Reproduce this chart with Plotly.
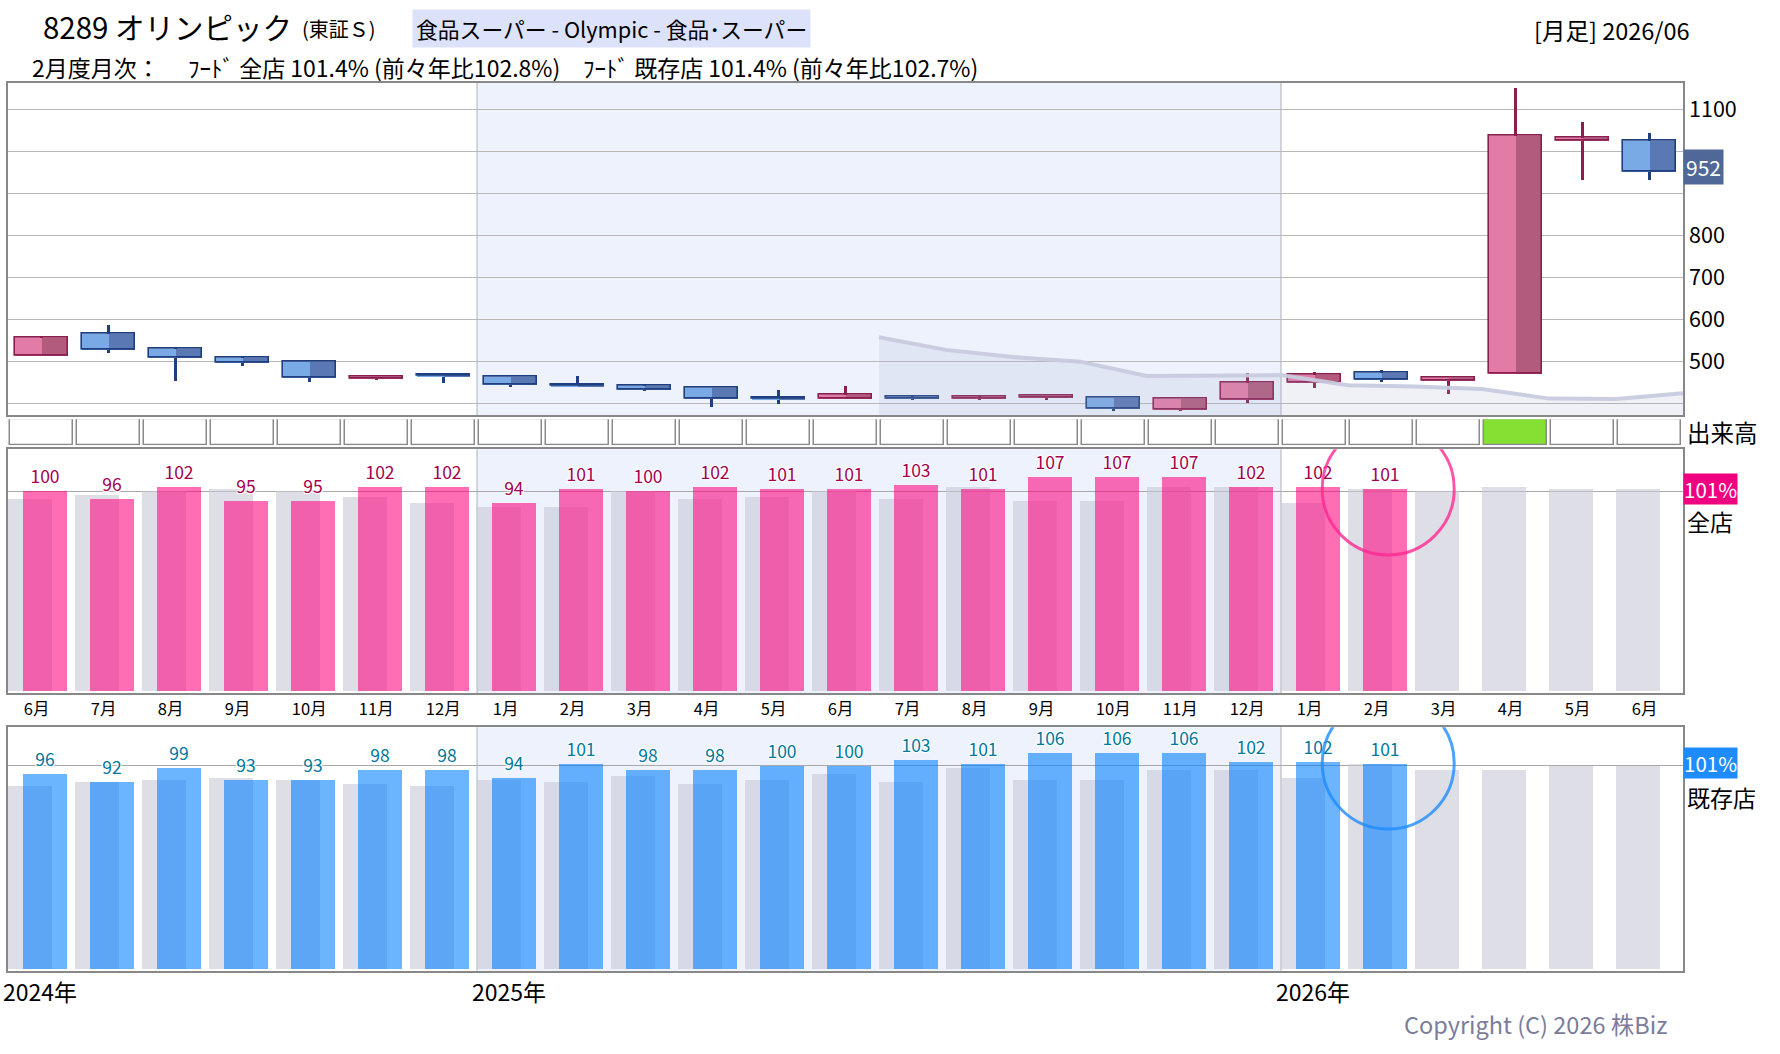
import plotly.graph_objects as go

W, H = 1780, 1054
FONT = "Noto Sans CJK JP"

# ---------------- data ----------------
months = ['6月', '7月', '8月', '9月', '10月', '11月', '12月', '1月', '2月', '3月', '4月', '5月',
          '6月', '7月', '8月', '9月', '10月', '11月', '12月', '1月', '2月', '3月', '4月', '5月', '6月']
year_labels = ['2024年', '2025年', '2026年']
year_start_idx = [0, 7, 19]

price_open = [514, 565, 530, 508, 498, 459, 468, 464, 445, 441, 436, 414, 412,
              415, 411, 414, 414, 385, 409, 450, 472, 454, 471, 1025, 1026]
price_high = [561, 587, 532, 511, 498, 464, 468, 464, 465, 444, 436, 432, 441,
              421, 418, 418, 414, 410, 472, 474, 480, 460, 1152, 1070, 1045]
price_low = [514, 521, 454, 489, 452, 457, 449, 440, 441, 430, 392, 399, 410,
             409, 408, 408, 382, 382, 402, 437, 452, 423, 471, 932, 933]
price_close = [555, 527, 508, 497, 461, 464, 465, 443, 441, 433, 412, 410, 421,
               411, 415, 418, 387, 410, 450, 469, 457, 460, 1038, 1031, 952]
price_ticks = [400, 500, 600, 700, 800, 900, 1000, 1100]
price_ticktext = ['', '500', '600', '700', '800', '', '', '1100']

# moving line (drawn at month boundaries, from the start of 2025/07)
ma_start_idx = 13
ma_values = [557, 527, 510, 499, 465, 467, 467, 443, 440, 434, 411, 410, 424]

volume_flag = [0, 0, 0, 0, 0, 0, 0, 0, 0, 0, 0, 0, 0,
               0, 0, 0, 0, 0, 0, 0, 0, 0, 1, 0, 0]

all_store = [100, 96, 102, 95, 95, 102, 102, 94, 101, 100, 102, 101, 101,
             103, 101, 107, 107, 107, 102, 102, 101]
all_store_prev = [96, 98, 100, 101, 100, 97, 94, 92, 92, 100, 96, 97, 100,
                  96, 102, 95, 95, 102, 102, 94, 101, 100, 102, 101, 101]
existing = [96, 92, 99, 93, 93, 98, 98, 94, 101, 98, 98, 100, 100,
            103, 101, 106, 106, 106, 102, 102, 101]
existing_prev = [90, 92, 93, 94, 93, 91, 90, 93, 92, 95, 91, 93, 96,
                 92, 99, 93, 93, 98, 98, 94, 101, 98, 98, 100, 100]
all_store_latest = 101.4
existing_latest = 101.4

idx = list(range(len(months)))

# ---------------- helpers ----------------
def ydom(top, bottom):
    return [1 - bottom / H, 1 - top / H]

XDOM = [8 / W, 1683 / W]
XR = [-0.5, len(months) - 0.5]
HALO = '1px 1px 1px #fff, -1px -1px 1px #fff, 1px -1px 1px #fff, -1px 1px 1px #fff'

fig = go.Figure()

# ---------------- price panel ----------------
ma_x = [ma_start_idx - 0.5 + k for k in range(len(ma_values))]
fig.add_trace(go.Scatter(x=ma_x, y=ma_values, mode='lines', fill='tozeroy',
                         fillcolor='rgba(165,170,200,0.17)',
                         line=dict(color='rgba(200,202,222,0.95)', width=4),
                         hoverinfo='skip', showlegend=False, xaxis='x', yaxis='y'))

up = [c >= o for o, c in zip(price_open, price_close)]
border = ['#8b1e4e' if u else '#1f3f80' for u in up]
light = ['#e27ca6' if u else '#7aaae6' for u in up]
dark = ['#b25b7c' if u else '#5a78b4' for u in up]
body_base = [min(o, c) for o, c in zip(price_open, price_close)]
body_len = [abs(c - o) for o, c in zip(price_open, price_close)]
wick_len = [h - l for h, l in zip(price_high, price_low)]

fig.add_trace(go.Bar(x=idx, y=wick_len, base=price_low, width=0.032, offset=-0.016,
                     marker=dict(color=border, line=dict(width=0)),
                     showlegend=False, xaxis='x', yaxis='y'))
fig.add_trace(go.Bar(x=idx, y=body_len, base=body_base, width=0.39, offset=-0.39,
                     marker=dict(color=light, line=dict(width=0)),
                     showlegend=False, xaxis='x', yaxis='y'))
fig.add_trace(go.Bar(x=idx, y=body_len, base=body_base, width=0.39, offset=0.0,
                     marker=dict(color=dark, line=dict(width=0)),
                     showlegend=False, xaxis='x', yaxis='y'))
fig.add_trace(go.Bar(x=idx, y=body_len, base=body_base, width=0.78, offset=-0.39,
                     marker=dict(color='rgba(0,0,0,0)', line=dict(color=border, width=1.6)),
                     showlegend=False, xaxis='x', yaxis='y'))

# ---------------- volume row ----------------
fig.add_trace(go.Bar(x=idx, y=[1] * len(idx), width=0.955,
                     marker=dict(color=['#84e032' if v else '#ffffff' for v in volume_flag],
                                 line=dict(color='#8a8a8a', width=1.5)),
                     cliponaxis=False, showlegend=False, xaxis='x2', yaxis='y2'))

# ---------------- all-store panel ----------------
fig.add_trace(go.Bar(x=idx, y=all_store_prev, width=0.655, offset=-0.505,
                     marker=dict(color='rgba(200,200,215,0.6)', line=dict(width=0)),
                     showlegend=False, xaxis='x3', yaxis='y3'))
fig.add_trace(go.Bar(x=idx[:len(all_store)], y=all_store, width=0.655, offset=-0.275,
                     marker=dict(color='rgba(255,0,125,0.57)', line=dict(width=0)),
                     text=[str(v) for v in all_store], textposition='outside',
                     textangle=0, constraintext='none', cliponaxis=False,
                     textfont=dict(family=FONT, size=17.5, color='#a3004f', shadow=HALO),
                     showlegend=False, xaxis='x3', yaxis='y3'))

# ---------------- existing-store panel ----------------
fig.add_trace(go.Bar(x=idx, y=existing_prev, width=0.655, offset=-0.505,
                     marker=dict(color='rgba(200,200,215,0.6)', line=dict(width=0)),
                     showlegend=False, xaxis='x4', yaxis='y4'))
fig.add_trace(go.Bar(x=idx[:len(existing)], y=existing, width=0.655, offset=-0.275,
                     marker=dict(color='rgba(0,125,255,0.58)', line=dict(width=0)),
                     text=[str(v) for v in existing], textposition='outside',
                     textangle=0, constraintext='none', cliponaxis=False,
                     textfont=dict(family=FONT, size=17.5, color='#00789c', shadow=HALO),
                     showlegend=False, xaxis='x4', yaxis='y4'))

# ---------------- axes ----------------
frame = dict(showline=True, mirror=True, linecolor='#888888', linewidth=1.5)
fig.update_layout(
    xaxis=dict(domain=XDOM, range=XR, anchor='y', showticklabels=False, ticks='',
               showgrid=False, zeroline=False, **frame),
    yaxis=dict(domain=ydom(82.7, 415), range=[372, 1163], side='right', anchor='x',
               tickvals=price_ticks, ticktext=price_ticktext, ticks='',
               showgrid=True, gridcolor='#b8b8b8', gridwidth=1.3, zeroline=False,
               tickfont=dict(family=FONT, size=21.5, color='#000'), **frame),
    xaxis2=dict(domain=XDOM, range=XR, anchor='y2', showticklabels=False, ticks='',
                showgrid=False, zeroline=False, showline=False),
    yaxis2=dict(domain=ydom(419.3, 445.3), range=[0, 1], anchor='x2',
                showticklabels=False, showgrid=False, zeroline=False, showline=False),
    xaxis3=dict(domain=XDOM, range=XR, anchor='y3', tickvals=[i - 0.275 for i in idx],
                ticktext=months, ticks='', ticklabelposition='outside right',
                tickfont=dict(family=FONT, size=16.5, color='#000'),
                showgrid=False, zeroline=False, **frame),
    yaxis3=dict(domain=ydom(449.3, 693.3), range=[-0.8, 121.2], anchor='x3',
                tickvals=[100], showticklabels=False, ticks='',
                showgrid=True, gridcolor='#a8a8a8', gridwidth=1.3, zeroline=False, **frame),
    xaxis4=dict(domain=XDOM, range=XR, anchor='y4', showticklabels=False, ticks='',
                showgrid=False, zeroline=False, **frame),
    yaxis4=dict(domain=ydom(727.3, 970.7), range=[-0.7, 119], anchor='x4',
                tickvals=[100], showticklabels=False, ticks='',
                showgrid=True, gridcolor='#a8a8a8', gridwidth=1.3, zeroline=False, **frame),
    barmode='overlay', bargap=0,
    width=W, height=H, autosize=False,
    margin=dict(l=0, r=0, t=0, b=0),
    paper_bgcolor='#ffffff', plot_bgcolor='#ffffff',
    font=dict(family=FONT, color='#000'),
    showlegend=False,
)

# ---------------- shapes ----------------
shapes = []
y2025_start = year_start_idx[1] - 0.5
y2026_start = year_start_idx[2] - 0.5
for xr, yr in [('x', 'y'), ('x3', 'y3'), ('x4', 'y4')]:
    shapes.append(dict(type='rect', xref=xr, yref=yr + ' domain', x0=y2025_start, x1=y2026_start,
                       y0=0, y1=1, fillcolor='#edf2fd', line=dict(width=0), layer='below'))
    for xv in [y2025_start, y2026_start]:
        shapes.append(dict(type='line', xref=xr, yref=yr + ' domain', x0=xv, x1=xv, y0=0, y1=1,
                           line=dict(color='#aeb0b8', width=1), layer='below'))

last_i = len(all_store) - 1
shapes.append(dict(type='circle', xref='x3', yref='y3', xsizemode='pixel', ysizemode='pixel',
                   xanchor=last_i + 0.1, yanchor=all_store_latest, x0=-66, x1=66, y0=-66, y1=66,
                   line=dict(color='rgba(255,40,145,0.8)', width=3), layer='above'))
shapes.append(dict(type='circle', xref='x4', yref='y4', xsizemode='pixel', ysizemode='pixel',
                   xanchor=last_i + 0.1, yanchor=existing_latest, x0=-66, x1=66, y0=-66, y1=66,
                   line=dict(color='rgba(30,140,255,0.8)', width=3), layer='above'))
fig.update_layout(shapes=shapes)

# ---------------- annotations ----------------
ann = []
def text(x, y, s, size, color='#000', anchor='left', **kw):
    ann.append(dict(xref='paper', yref='paper', x=x / W, y=1 - y / H, text=s, showarrow=False,
                    xanchor=anchor, yanchor='middle', font=dict(family=FONT, size=size, color=color), **kw))

text(41, 26, '8289 オリンピック', 29.5)
text(300, 29, '(東証Ｓ)', 20)
text(412, 28, '食品スーパー - Olympic - 食品･スーパー', 21.8, bgcolor='#dde2fb', borderpad=3)
text(1532, 30, '[月足] 2026/06', 23.5)
text(30, 67, '2月度月次：', 23)
text(186, 67, 'ﾌｰﾄﾞ 全店 101.4% (前々年比102.8%)', 23)
text(581, 67, 'ﾌｰﾄﾞ 既存店 101.4% (前々年比102.7%)', 23)
text(1685, 432, '出来高', 23.5)
text(1685, 521, '全店', 23)
text(1685, 797, '既存店', 23)
text(1669, 1024, 'Copyright (C) 2026 株Biz', 23.5, color='#7c7c9c', anchor='right')

ann.append(dict(xref='paper', yref='y', x=1683 / W, y=price_close[-1], text=str(price_close[-1]),
                showarrow=False, xanchor='left', yanchor='middle', bgcolor='#506898', borderpad=2,
                yshift=4, font=dict(family=FONT, size=21, color='#ffffff')))
ann.append(dict(xref='paper', yref='y3', x=1683 / W, y=all_store_latest,
                text=f'{round(all_store_latest)}%', showarrow=False, xanchor='left', yanchor='middle',
                bgcolor='#f00080', borderpad=0, font=dict(family=FONT, size=20.5, color='#ffffff')))
ann.append(dict(xref='paper', yref='y4', x=1683 / W, y=existing_latest,
                text=f'{round(existing_latest)}%', showarrow=False, xanchor='left', yanchor='middle',
                bgcolor='#1e8cff', borderpad=0, font=dict(family=FONT, size=20.5, color='#ffffff')))

for lab, i in zip(year_labels, year_start_idx):
    ann.append(dict(xref='x4', yref='paper', x=i - 0.5, y=1 - 991 / H, text=lab, showarrow=False,
                    xanchor='left', yanchor='middle', xshift=-7,
                    font=dict(family=FONT, size=23, color='#000')))
fig.update_layout(annotations=ann)

fig.write_html('out.html')
